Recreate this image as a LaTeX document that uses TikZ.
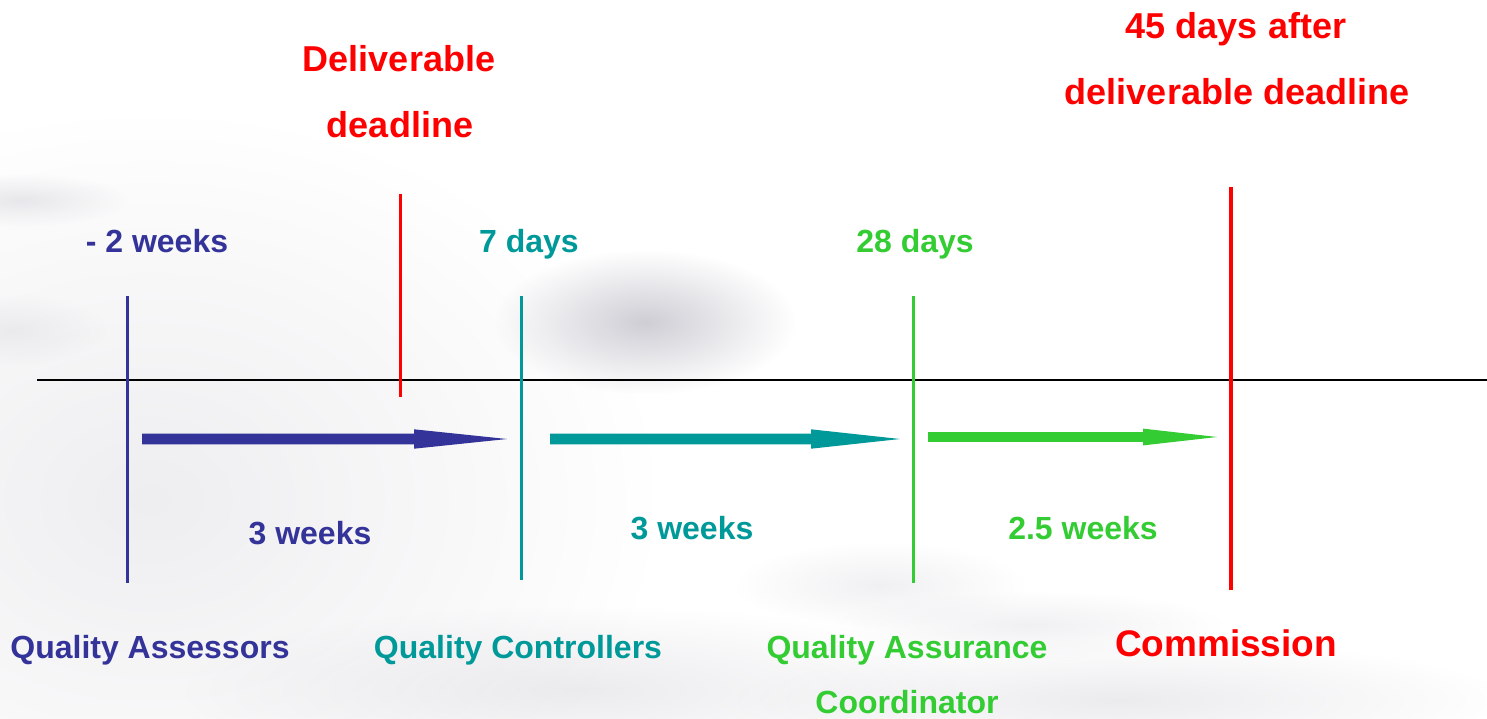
\documentclass[tikz,border=0pt]{standalone}
\usepackage{fontspec}
\setmainfont{Liberation Sans}
\usetikzlibrary{fadings,calc}
\definecolor{qblue}{HTML}{333399}
\definecolor{qteal}{HTML}{009999}
\definecolor{qgreen}{HTML}{33CC33}
\definecolor{qred}{HTML}{FF0000}
\definecolor{bggray}{HTML}{CFCED5}
\tikzfading[name=softblob, inner color=transparent!0, outer color=transparent!100]
\tikzset{
  lbl/.style={font=\bfseries\fontsize{32}{38}\selectfont, anchor=base, inner sep=0pt},
  biglbl/.style={font=\bfseries\fontsize{36}{42}\selectfont, anchor=base, inner sep=0pt, text=qred},
  mark line/.style={line width=3pt},
  blob/.style={fill=bggray, path fading=softblob},
}
% blob: centre x, centre y, radius x, radius y, opacity
\newcommand\bgblob[5]{\fill[blob, fill opacity=#5] (#1-1.2*#3,#2-1.2*#4) rectangle (#1+1.2*#3,#2+1.2*#4);}
% flow arrow: colour, start, end, head start (coordinate names), shaft half, head half
\newcommand\flowarrow[6]{%
  \fill[#1] ($(#2)+(0,-#5)$) -- ($(#4)+(0,-#5)$) -- ($(#4)+(0,-#6)$) -- (#3)
    -- ($(#4)+(0,#6)$) -- ($(#4)+(0,#5)$) -- ($(#2)+(0,#5)$) -- cycle;}
\begin{document}
\begin{tikzpicture}[x=1pt,y=-1pt]
\useasboundingbox (0,0) rectangle (1487,718);
\fill[white] (0,0) rectangle (1487,718);
% background swooshes
\bgblob{150}{500}{420}{320}{0.35}
\bgblob{20}{200}{90}{22}{0.45}
\bgblob{10}{330}{80}{30}{0.3}
\bgblob{645}{322}{125}{60}{1}
\bgblob{580}{690}{330}{70}{0.4}
\bgblob{1120}{700}{320}{50}{0.4}
\bgblob{880}{585}{120}{35}{0.3}
\bgblob{1030}{625}{160}{28}{0.3}
% axis
\coordinate (axL) at (37,380);
\coordinate (axR) at (1487,380);
\draw[black, line width=1.5pt] (axL) -- (axR);
% vertical markers
\coordinate (vbT) at (127,296); \coordinate (vbB) at (127,583);
\coordinate (vrT) at (400,194); \coordinate (vrB) at (400,397);
\coordinate (vtT) at (521,296); \coordinate (vtB) at (521,580);
\coordinate (vgT) at (913,296); \coordinate (vgB) at (913,583);
\coordinate (vcT) at (1231,187); \coordinate (vcB) at (1231,590);
\draw[mark line, qblue] (vbT) -- (vbB);
\draw[mark line, qred] (vrT) -- (vrB);
\draw[mark line, qteal] (vtT) -- (vtB);
\draw[mark line, qgreen] (vgT) -- (vgB);
\draw[line width=4pt, qred] (vcT) -- (vcB);
% flow arrows
\coordinate (a1s) at (142,439); \coordinate (a1h) at (414,439); \coordinate (a1e) at (507,439);
\coordinate (a2s) at (550,439); \coordinate (a2h) at (811,439); \coordinate (a2e) at (900,439);
\coordinate (a3s) at (928,437); \coordinate (a3h) at (1143,437); \coordinate (a3e) at (1217,437);
\flowarrow{qblue}{a1s}{a1e}{a1h}{5.4}{9.7}
\flowarrow{qteal}{a2s}{a2e}{a2h}{5.4}{9.7}
\flowarrow{qgreen}{a3s}{a3e}{a3h}{4.9}{8.4}
% top labels
\node[lbl, text=qblue] (t1) at (157,252) {- 2 weeks};
\node[lbl, text=qteal] (t2) at (529,252) {7 days};
\node[lbl, text=qgreen] (t3) at (915,252) {28 days};
% duration labels
\node[lbl, text=qblue] (d1) at (310,544) {3 weeks};
\node[lbl, text=qteal] (d2) at (692,539) {3 weeks};
\node[lbl, text=qgreen] (d3) at (1083,539) {2.5 weeks};
% role labels
\node[lbl, text=qblue] (r1) at (150,658) {Quality Assessors};
\node[lbl, text=qteal] (r2) at (518,658) {Quality Controllers};
\node[lbl, text=qgreen] (r3a) at (907,658) {Quality Assurance};
\node[lbl, text=qgreen] (r3b) at (907,713) {Coordinator};
\node[biglbl, font=\bfseries\fontsize{37}{42}\selectfont] (r4) at (1226,656) {Commission};
% deadline labels
\node[biglbl] (dl1) at (399,71) {Deliverable};
\node[biglbl] (dl2) at (400,137) {deadline};
\node[biglbl] (f1) at (1236,38) {45 days after};
\node[biglbl] (f2) at (1237,104) {deliverable deadline};
\end{tikzpicture}
\end{document}
